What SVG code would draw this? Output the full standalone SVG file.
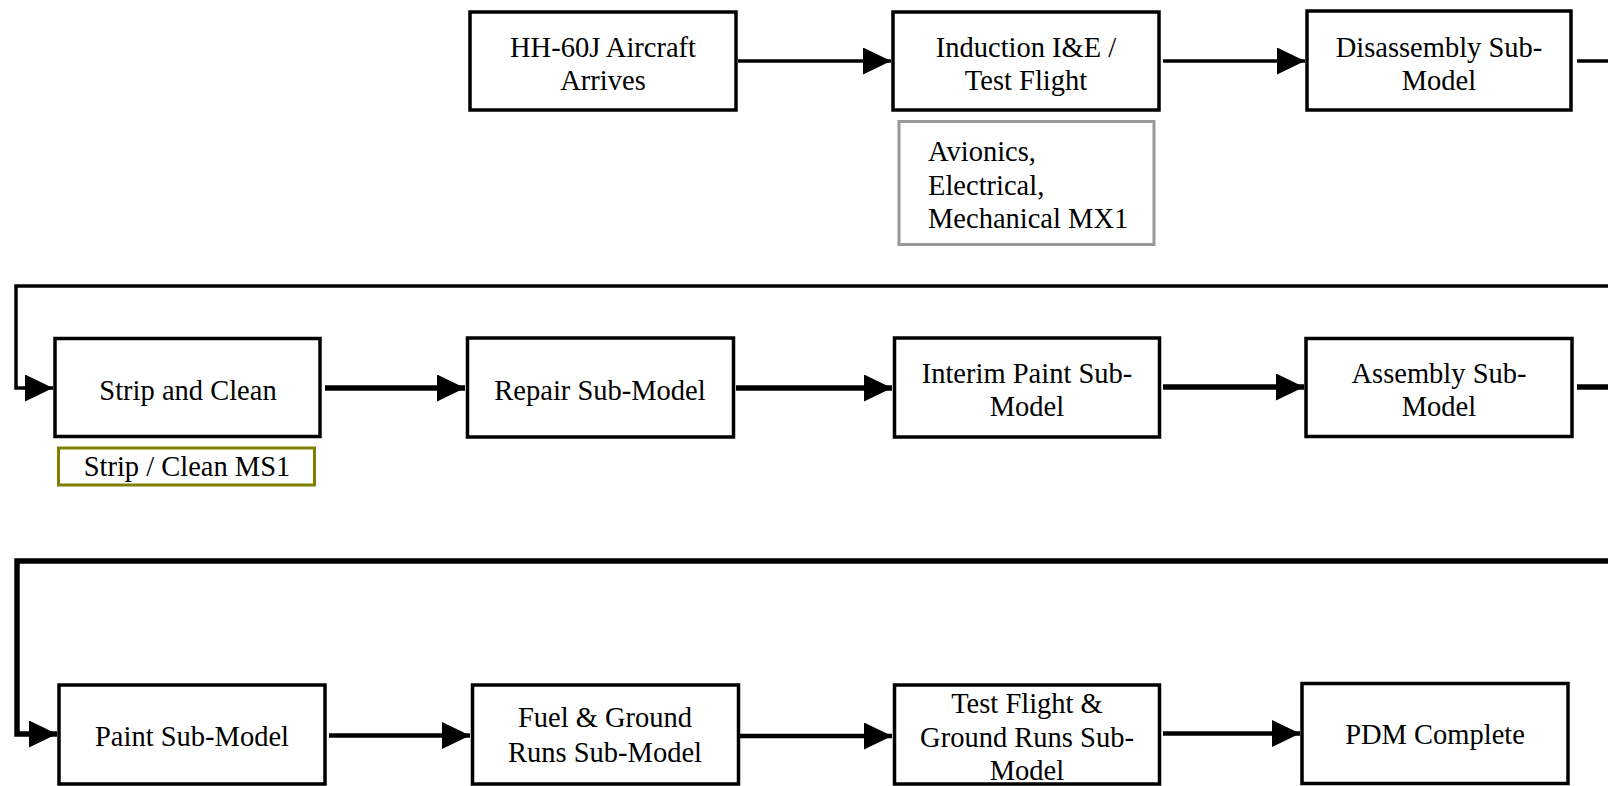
<svg xmlns="http://www.w3.org/2000/svg" width="1608" height="786" viewBox="0 0 1608 786">
  <style>
    .box { fill: #ffffff; stroke: #000000; stroke-width: 3.5; }
    .note-gray { fill: #ffffff; stroke: #999999; stroke-width: 3; }
    .note-olive { fill: #ffffff; stroke: #808000; stroke-width: 3; }
    .label { font-family: "Liberation Serif", "Times New Roman", serif; font-size: 28.5px; fill: #000000; text-anchor: middle; }
    .label-left { font-family: "Liberation Serif", "Times New Roman", serif; font-size: 28.5px; fill: #000000; text-anchor: start; }
    .wire { fill: none; stroke: #000000; stroke-linejoin: miter; }
    .thin { stroke-width: 3.5; }
    .mid { stroke-width: 4.5; }
    .thick { stroke-width: 5.5; }
  </style>
  <defs>
    <marker id="arrow" markerUnits="userSpaceOnUse" markerWidth="28" markerHeight="28" refX="28" refY="13.5" orient="auto">
      <path d="M0,0 L28,13.5 L0,27 Z" fill="#000000"/>
    </marker>
  </defs>

  <rect width="1608" height="786" fill="#ffffff"/>

  <!-- flow connectors -->
  <g id="connectors">
    <path class="wire thin" d="M738,61 H891" marker-end="url(#arrow)"/>
    <path class="wire thin" d="M1163,61 H1305" marker-end="url(#arrow)"/>
    <path class="wire thin" d="M1577,61 H1620 V286 H16 V388 H53" marker-end="url(#arrow)"/>
    <path class="wire thick" d="M325,388 H465" marker-end="url(#arrow)"/>
    <path class="wire thick" d="M736,388 H892" marker-end="url(#arrow)"/>
    <path class="wire thick" d="M1163,387 H1304" marker-end="url(#arrow)"/>
    <path class="wire thick" d="M1577,387 H1620 V561 H17 V734 H57" marker-end="url(#arrow)"/>
    <path class="wire mid" d="M329,735.5 H470" marker-end="url(#arrow)"/>
    <path class="wire mid" d="M740,736 H892" marker-end="url(#arrow)"/>
    <path class="wire mid" d="M1163,733.5 H1300" marker-end="url(#arrow)"/>
  </g>

  <!-- row 1 -->
  <g id="node-arrives">
    <rect class="box" x="470" y="12" width="266" height="98"/>
    <text class="label" x="603" y="57">HH-60J Aircraft</text>
    <text class="label" x="603" y="90">Arrives</text>
  </g>
  <g id="node-induction">
    <rect class="box" x="893" y="12" width="266" height="98"/>
    <text class="label" x="1026" y="57">Induction I&amp;E /</text>
    <text class="label" x="1026" y="90">Test Flight</text>
  </g>
  <g id="node-induction-crew">
    <rect class="note-gray" x="899" y="121.5" width="255" height="123"/>
    <text class="label-left" x="928" y="161">Avionics,</text>
    <text class="label-left" x="928" y="194.5">Electrical,</text>
    <text class="label-left" x="928" y="228">Mechanical MX1</text>
  </g>
  <g id="node-disassembly">
    <rect class="box" x="1307" y="11" width="264" height="99"/>
    <text class="label" x="1439" y="57">Disassembly Sub-</text>
    <text class="label" x="1439" y="90">Model</text>
  </g>

  <!-- row 2 -->
  <g id="node-strip">
    <rect class="box" x="55" y="338.5" width="265" height="98"/>
    <text class="label" x="188" y="400">Strip and Clean</text>
  </g>
  <g id="node-strip-crew">
    <rect class="note-olive" x="58.5" y="448" width="256" height="37"/>
    <text class="label" x="187" y="476">Strip / Clean MS1</text>
  </g>
  <g id="node-repair">
    <rect class="box" x="467.5" y="338" width="266" height="99"/>
    <text class="label" x="600" y="400">Repair Sub-Model</text>
  </g>
  <g id="node-interim-paint">
    <rect class="box" x="894.5" y="338" width="265" height="99"/>
    <text class="label" x="1027" y="383">Interim Paint Sub-</text>
    <text class="label" x="1027" y="416">Model</text>
  </g>
  <g id="node-assembly">
    <rect class="box" x="1306" y="338.5" width="266" height="98"/>
    <text class="label" x="1439" y="383">Assembly Sub-</text>
    <text class="label" x="1439" y="416">Model</text>
  </g>

  <!-- row 3 -->
  <g id="node-paint">
    <rect class="box" x="59" y="685" width="266" height="99"/>
    <text class="label" x="192" y="746">Paint Sub-Model</text>
  </g>
  <g id="node-fuel">
    <rect class="box" x="472.5" y="685" width="266" height="99"/>
    <text class="label" x="605" y="727">Fuel &amp; Ground</text>
    <text class="label" x="605" y="761.5">Runs Sub-Model</text>
  </g>
  <g id="node-test-flight">
    <rect class="box" x="894.5" y="685" width="265" height="99"/>
    <text class="label" x="1027" y="713">Test Flight &amp;</text>
    <text class="label" x="1027" y="747">Ground Runs Sub-</text>
    <text class="label" x="1027" y="780">Model</text>
  </g>
  <g id="node-complete">
    <rect class="box" x="1302" y="683.5" width="266" height="100"/>
    <text class="label" x="1435" y="744">PDM Complete</text>
  </g>
</svg>
